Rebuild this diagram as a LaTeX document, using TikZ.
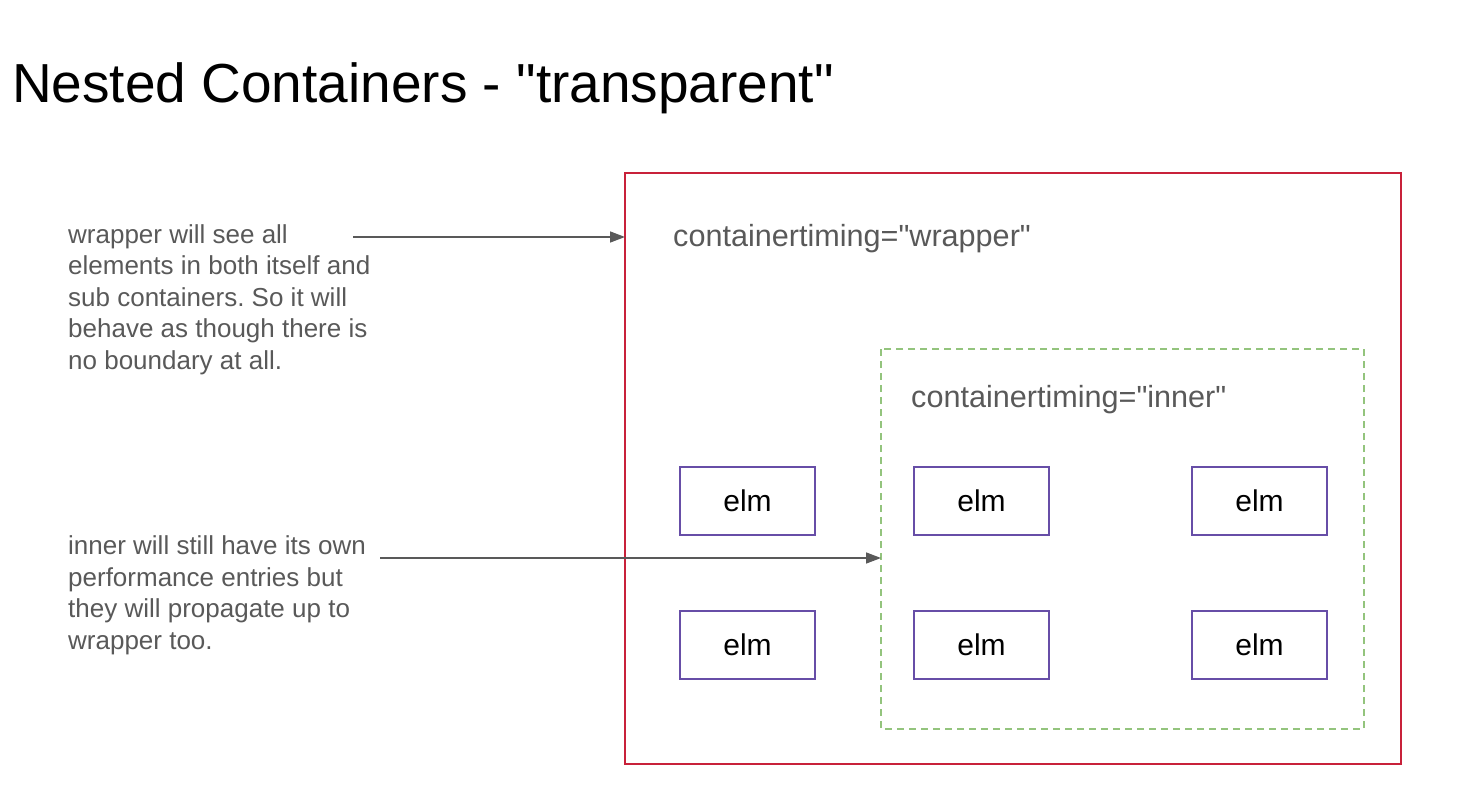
\documentclass[tikz,border=0pt]{standalone}
\usepackage{fontspec}
\setmainfont{Liberation Sans}
\usetikzlibrary{arrows.meta}
\definecolor{wrapred}{HTML}{C8213A}
\definecolor{innergreen}{HTML}{93C47D}
\definecolor{elmpurple}{HTML}{674EA7}
\definecolor{txtgray}{HTML}{595959}
\frenchspacing
\newcommand{\sq}{\XeTeXglyph\XeTeXcharglyph"22\relax}
\tikzset{
  elmbox/.style={draw=elmpurple, line width=1.4pt, minimum width=135pt, minimum height=68pt, inner sep=0pt, font=\fontsize{30}{36}\selectfont, text=black},
  note/.style={anchor=base west, align=left, inner sep=0pt, text=txtgray, font=\fontsize{26}{31.5}\selectfont},
  lbl/.style={anchor=base west, inner sep=0pt, text=txtgray, font=\fontsize{30.6}{37}\selectfont},
  conn/.style={draw=txtgray, line width=1.5pt, -{Triangle[length=15pt,width=11pt]}},
}
\begin{document}
\begin{tikzpicture}[x=1pt,y=-1pt]
\useasboundingbox (0,0) rectangle (1466,802);
\node[anchor=base west, inner sep=0pt, font=\fontsize{55}{66}\selectfont] (title) at (12,103) {Nested Containers - \sq transparent\sq};
% wrapper container
\draw[wrapred, line width=2pt] (625,173) rectangle (1401,764);
\coordinate (wrapL) at (625,237);
\node[lbl] (wraplbl) at (673,247) {containertiming=\sq wrapper\sq};
% inner container
\draw[innergreen, line width=1.5pt, dash pattern=on 7pt off 5pt] (881,349) rectangle (1364,729);
\coordinate (innerL) at (881,558);
\node[lbl] (innerlbl) at (911,407) {containertiming=\sq inner\sq};
% elements
\node[elmbox] (e11) at (747.5,501) {elm};
\node[elmbox] (e12) at (981.5,501) {elm};
\node[elmbox] (e13) at (1259.5,501) {elm};
\node[elmbox] (e21) at (747.5,645) {elm};
\node[elmbox] (e22) at (981.5,645) {elm};
\node[elmbox] (e23) at (1259.5,645) {elm};
% notes (anchored at the baseline of their last line)
\node[note] (n1) at (68,369) {wrapper will see all\\elements in both itself and\\sub containers. So it will\\behave as though there is\\no boundary at all.};
\node[note] (n2) at (68,649) {inner will still have its own\\performance entries but\\they will propagate up to\\wrapper too.};
\coordinate (a1) at (353,237);
\coordinate (a2) at (380,558);
\draw[conn] (a1) -- (wrapL);
\draw[conn] (a2) -- (innerL);
\end{tikzpicture}
\end{document}
